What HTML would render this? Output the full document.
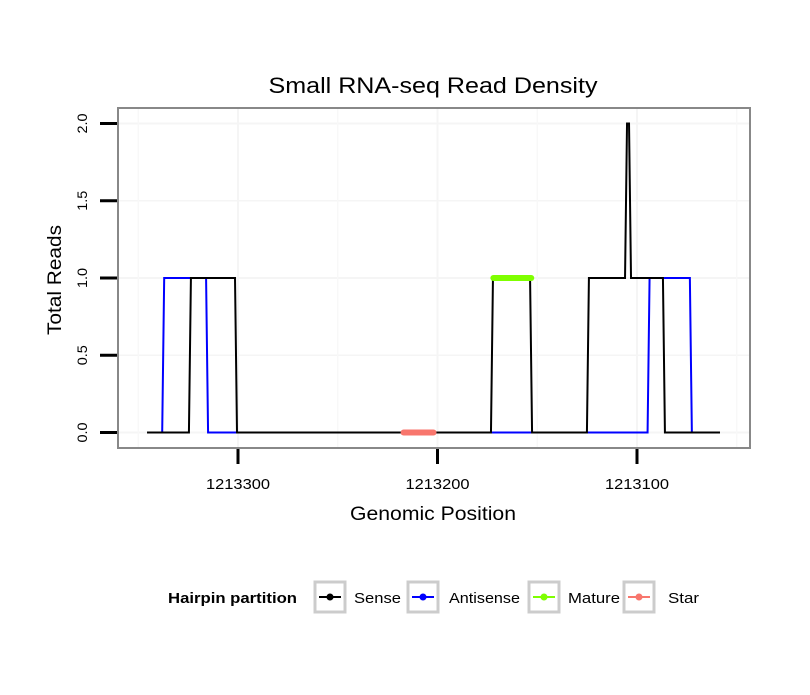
<!DOCTYPE html>
<html><head><meta charset="utf-8"><style>
body{margin:0;background:#fff;font-family:"Liberation Sans",sans-serif}
</style></head><body>
<svg id="chart" width="810" height="690" xmlns="http://www.w3.org/2000/svg" font-family="Liberation Sans, sans-serif">
<rect width="810" height="690" fill="#fff"/>
<text x="433" y="93" font-size="22" text-anchor="middle" textLength="329" lengthAdjust="spacingAndGlyphs">Small RNA-seq Read Density</text>
<g id="grid"></g>
<g id="series"></g>
<rect x="118" y="108" width="632" height="340" fill="none" stroke="#888" stroke-width="2"/>
<g id="axes"></g>
<text x="433" y="520" font-size="19" text-anchor="middle" textLength="166" lengthAdjust="spacingAndGlyphs">Genomic Position</text>
<text transform="translate(61,280) rotate(-90)" font-size="19" text-anchor="middle" textLength="110" lengthAdjust="spacingAndGlyphs">Total Reads</text>
<g>
<text x="168" y="603" font-size="15" font-weight="bold" textLength="129" lengthAdjust="spacingAndGlyphs">Hairpin partition</text>
<g id="legend"></g>
</g>
</svg>
<script>
const senseX=[1213345.6,1213324.6,1213323.6,1213301.5,1213300.5,1213173.2,1213172.2,1213153.6,1213152.6,1213125.1,1213124.1,1213106,1213105,1213104,1213103,1213087,1213086,1213058.4];
const senseY=[0,0,1,1,0,0,1,1,0,0,1,1,2,2,1,1,0,0];
const antiX=[1213338,1213337,1213316,1213315,1213094.7,1213093.7,1213073.5,1213072.5];
const antiY=[0,1,1,0,0,1,1,0];
const matureX=[1213172,1213153];
const matureY=[1,1];
const starX=[1213217,1213202];
const starY=[0,0];
const xTicks=[1213300,1213200,1213100];
const yTicks=[0,0.5,1,1.5,2];
const yTickLabels=["0.0","0.5","1.0","1.5","2.0"];
const legendLabels=["Sense","Antisense","Mature","Star"];
const legendColors=["#000","#0000ff","#7fff00","#f8766d"];
const legendWidths=[47,71,52,31];

const NS="http://www.w3.org/2000/svg";
const xs=p=>238+(1213300-p)*1.995;
const ys=v=>432.5-v*154.5;
function mk(tag,attrs,parent){const e=document.createElementNS(NS,tag);for(const k in attrs)e.setAttribute(k,attrs[k]);document.getElementById(parent).appendChild(e);return e;}

for(const t of yTicks){const l=mk('line',{x1:118,x2:750,y1:ys(t),y2:ys(t),stroke:'#f5f5f5','stroke-width':t%1===0?2:1.5},'grid');

}
for(const t of [1213350,1213250,1213150,1213050]){const l=mk('line',{x1:xs(t),x2:xs(t),y1:108,y2:448,stroke:'#f8f8f8','stroke-width':1.5},'grid');

}
for(const t of xTicks){const l=mk('line',{x1:xs(t),x2:xs(t),y1:108,y2:448,stroke:'#f5f5f5','stroke-width':2},'grid');

}

function line(X,Y,color,w,name,cap){const pts=X.map((x,i)=>xs(x)+','+ys(Y[i])).join(' ');
const p=mk('polyline',{points:pts,fill:'none',stroke:color,'stroke-width':w,'stroke-linejoin':'miter','stroke-linecap':cap||'butt'},'series');

}
line(antiX,antiY,'#0000ff',2,'antisense-line');
line(senseX,senseY,'#000',2,'sense-line');
line(matureX,matureY,'#7fff00',6,'mature-segment','round');
line(starX,starY,'#f8766d',6,'star-segment','round');

yTicks.forEach((t,i)=>{const l=mk('line',{x1:100,x2:117,y1:ys(t),y2:ys(t),stroke:'#000','stroke-width':3},'axes');


const tx=mk('text',{transform:`translate(87,${ys(t)}) rotate(-90)`,'font-size':14,'text-anchor':'middle',textLength:20,lengthAdjust:'spacingAndGlyphs'},'axes');tx.textContent=yTickLabels[i];

});
xTicks.forEach(t=>{const l=mk('line',{x1:xs(t),x2:xs(t),y1:449,y2:464,stroke:'#000','stroke-width':3},'axes');


const tx=mk('text',{x:xs(t),y:489,'font-size':15,'text-anchor':'middle',textLength:64,lengthAdjust:'spacingAndGlyphs'},'axes');tx.textContent=t;

});

const keyX=[315,408,529,624];
const labelX=[354,449,568,668];
legendLabels.forEach((lab,i)=>{const x=keyX[i];
const r=mk('rect',{x:x,y:582,width:30,height:30,fill:'#fff',stroke:'#ccc','stroke-width':3},'legend');


const l=mk('line',{x1:x+4,x2:x+26,y1:597,y2:597,stroke:legendColors[i],'stroke-width':2},'legend');


const c=mk('circle',{cx:x+15,cy:597,r:3.5,fill:legendColors[i]},'legend');


const t=mk('text',{x:labelX[i],y:603,'font-size':15,textLength:legendWidths[i],lengthAdjust:'spacingAndGlyphs'},'legend');t.textContent=lab;

});
</script>
</body></html>
